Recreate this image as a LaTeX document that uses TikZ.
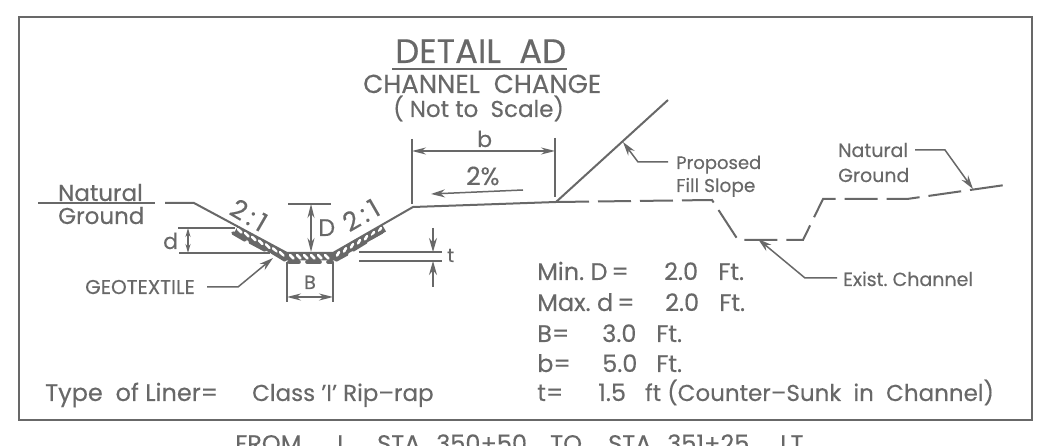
\documentclass[tikz,border=0pt]{standalone}
\usepackage{fontspec}
\setmainfont[FakeBold=0.25]{Poppins}
\usetikzlibrary{arrows.meta}
\definecolor{ink}{HTML}{686868}
\tikzset{
 lbl/.style={text=ink,inner sep=0pt,anchor=base west,font=\fontsize{#1}{#1}\selectfont},
 lbl/.default=24,
 ln/.style={draw=ink,line width=2pt},
 fine/.style={draw=ink,line width=1.5pt},
 tipped/.style={-{Stealth[length=14pt,width=8pt]}},
 twotips/.style={{Stealth[length=14pt,width=7pt]}-{Stealth[length=14pt,width=7pt]}},
 smalltips/.style={{Stealth[length=9pt,width=5pt]}-{Stealth[length=9pt,width=5pt]}},
 blob/.style={draw=ink,line width=3.6pt,line cap=round},
 slash/.style={draw=white,line width=2.6pt,line cap=round},
 ratio/.style={text=ink,inner sep=0pt,font=\fontsize{26}{26}\selectfont},
}
\begin{document}
\begin{tikzpicture}[x=1pt,y=-1pt]
\useasboundingbox (0,0) rectangle (1045,446);
\fill[white] (0,0) rectangle (1045,446);
\draw[ln,line width=2.4pt] (19,17) rectangle (1032,420);
% titles
\node[lbl=34] (title) at (395,63) {DETAIL\ \ AD};
\draw[ln,line width=2.4pt] (392,69) -- (567,69);
\node[lbl=26] (sub) at (363,93) {CHANNEL\ \ CHANGE};
\node[lbl=23] (nts) at (393,117) {( Not to\ \ Scale)};
% ground line
\coordinate (g0) at (38,203); \coordinate (g1) at (155,203);
\coordinate (g2) at (165,203); \coordinate (g3) at (194,203);
\coordinate (c1) at (287,253); \coordinate (c2) at (333,253);
\coordinate (c3) at (413,207); \coordinate (c4) at (556,202);
\coordinate (fill) at (668,100);
\draw[ln] (g0) -- (g1);
% riprap
\draw[draw=ink,line width=8pt] (236,229.5) -- (285,256.5) -- (335,256.5) -- (384,228);
\foreach \x in {238,245,...,284} \draw[slash] (\x,{229+(\x-238)*0.55}) -- ++(3.5,3.5);
\foreach \x in {290,297,...,330} \draw[slash] (\x,255) -- ++(3.5,3.5);
\foreach \x in {339,346,...,382} \draw[slash] (\x,{255.5-(\x-333)*0.575}) -- ++(-2,3.5);
\draw[blob] (233,233) -- (245,240);
\draw[blob] (250,242) -- (265,250);
\draw[blob] (272,252) -- (285,260);
\draw[blob] (289,262) -- (299,262);
\draw[blob] (307,262) -- (320,262);
\draw[blob] (328,262) -- (332,262);
\draw[blob] (336,260) -- (347,254);
\draw[blob] (353,250) -- (366,242);
\draw[blob] (371,238) -- (382,232);
\draw[ln] (g2) -- (g3) -- (c1) -- (c2) -- (c3) -- (c4) -- (fill);
\draw[ln,dash pattern=on 33pt off 9pt] (c4) -- (712,200) -- (738,240) -- (803,240) -- (823,199) -- (907,199) -- (1005,185);
% Natural Ground left
\node[lbl=23] (ng1) at (58,201) {Natural};
\node[lbl=23] (ng2) at (58,224) {Ground};
% D
\draw[fine] (288,204) -- (331,204);
\coordinate (Dt) at (311,204); \coordinate (Db) at (311,252);
\draw[fine,twotips] (Dt) -- (Db);
\node[lbl=24] (D) at (318,236) {D};
% d
\coordinate (dt) at (188,228); \coordinate (db) at (188,253);
\draw[fine] (178,228) -- (235,228);
\draw[fine] (179,253) -- (270,253);
\draw[fine,smalltips] (dt) -- (db);
\node[lbl=22] (d) at (163,249) {d};
% slopes
\node[ratio,rotate=-30] (s1) at (249,215) {2\,:\,1};
\node[ratio,rotate=30] (s2) at (361,215) {2\,:\,1};
% geotextile
\node[lbl=20] (geo) at (85,294) {GEOTEXTILE};
\coordinate (ge) at (238,287); \coordinate (gt) at (273,258);
\draw[fine,tipped] (207,287) -- (ge) -- (gt);
% B
\coordinate (Bl) at (287,297); \coordinate (Br) at (333,297);
\draw[fine] (287,262) -- (287,302);
\draw[fine] (333,262) -- (333,302);
\draw[fine,twotips] (Bl) -- (Br);
\node[lbl=19] (B) at (304,289) {B};
% t
\draw[fine] (359,252) -- (442,252);
\draw[fine] (359,261) -- (442,261);
\coordinate (t1) at (433,252); \coordinate (t2) at (433,261);
\draw[fine,tipped] (433,228) -- (t1);
\draw[fine,tipped] (433,287) -- (t2);
\node[lbl=19] (t) at (447,262) {t};
% b
\draw[fine] (412,139) -- (412,204);
\draw[fine] (555,138) -- (555,197);
\coordinate (bl) at (412,151); \coordinate (br) at (555,151);
\draw[fine,twotips] (bl) -- (br);
\node[lbl=22] (b) at (477,147) {b};
\node[lbl=25] (pct) at (466,185) {2\%};
\coordinate (pa) at (523,190); \coordinate (pb) at (431,194);
\draw[fine,tipped] (pa) -- (pb);
% Proposed
\node[lbl=18] (pr) at (676,169) {Proposed};
\node[lbl=18.5] (fs) at (676,192) {Fill Slope};
\draw[fine,tipped] (668,162) -- (638,162) -- (623,142);
% Natural right
\node[lbl=19] (nr1) at (838,157) {Natural};
\node[lbl=19] (nr2) at (838,182) {Ground};
\draw[fine,tipped] (915,150) -- (945,150) -- (973,189);
% Exist
\node[lbl=19] (ex) at (843,286) {Exist.\ Channel};
\draw[fine,tipped] (837,278) -- (805,278) -- (758,239);
% table
\node[lbl] (m1) at (537,280) {Min.\ D\,=};
\node[lbl] (m2) at (664,280) {2.0};
\node[lbl] (m3) at (718,280) {Ft.};
\node[lbl] (x1) at (537,311) {Max.\ d\,=};
\node[lbl] (x2) at (665,311) {2.0};
\node[lbl] (x3) at (719,311) {Ft.};
\node[lbl] (b1) at (537,342) {B=};
\node[lbl] (b2) at (602,342) {3.0};
\node[lbl] (b3) at (656,342) {Ft.};
\node[lbl] (c1t) at (537,372) {b=};
\node[lbl] (c2t) at (602,372) {5.0};
\node[lbl] (c3t) at (656,372) {Ft.};
\node[lbl] (t1t) at (537,401) {t=};
\node[lbl] (t2t) at (598,401) {1.5};
\node[lbl=23] (t3t) at (645,401) {ft (Counter–Sunk\ \ in\ \ Channel)};
\node[lbl] (ty) at (45,401) {Type\ \ of Liner=};
\node[lbl=23] (cl) at (252,401) {Class 'I' Rip–rap};
% footer
\node[lbl] (f1) at (235,452) {FROM};
\node[lbl] (f2) at (337,452) {L};
\node[lbl] (f3) at (377,452) {STA};
\node[lbl] (f4) at (436,452) {350+50};
\node[lbl] (f5) at (550,452) {TO};
\node[lbl] (f6) at (608,452) {STA};
\node[lbl] (f7) at (667,452) {351+25};
\node[lbl] (f8) at (780,452) {LT.};
\end{tikzpicture}
\end{document}
